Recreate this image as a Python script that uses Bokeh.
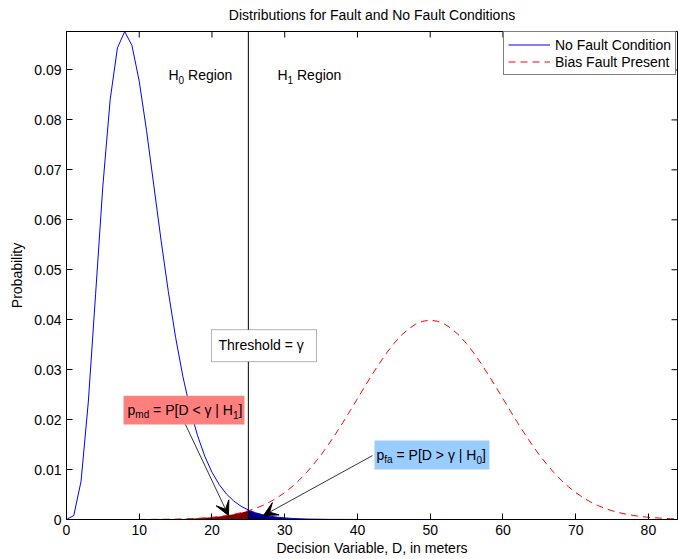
import math
from bokeh.plotting import figure
from bokeh.models import (Range1d, FixedTicker, Span, BoxAnnotation,
                          Label, Arrow, VeeHead, Legend, LegendItem)
from bokeh.embed import file_html
from bokeh.resources import INLINE

# ---------------- data ----------------
x_vals = list(range(85))
no_fault = [0.0, 0.00079, 0.00766, 0.02353, 0.04511, 0.06680, 0.08402, 0.09441, 0.09768, 0.09490,
            0.08773, 0.07791, 0.06693, 0.05591, 0.04561, 0.03646, 0.02863, 0.02213, 0.01687, 0.01270,
            0.00946, 0.00697, 0.00509, 0.00369, 0.00265, 0.00190, 0.00134, 0.00095, 0.00067, 0.00046,
            0.00032, 0.00022, 0.00015, 0.00010, 0.00007, 0.00005, 0.00003, 0.00002, 0.00002, 0.00001,
            0.00001] + [0.0] * 44
bias_fault = [0.0] * 10 + [
    0.000013, 0.00002, 0.000029, 0.000043, 0.000061, 0.000087, 0.000123, 0.000172, 0.000238, 0.000327,
    0.000443, 0.000595, 0.000792, 0.001042, 0.001358, 0.001753, 0.002239, 0.002833, 0.003547, 0.004398,
    0.005399, 0.006562, 0.007895, 0.009405, 0.011092, 0.012952, 0.014973, 0.017137, 0.019419, 0.021785,
    0.024197, 0.026609, 0.028969, 0.031225, 0.033322, 0.035207, 0.036827, 0.038139, 0.039104, 0.039695,
    0.039894,
    0.039695, 0.039104, 0.038139, 0.036827, 0.035207, 0.033322, 0.031225, 0.028969, 0.026609, 0.024197,
    0.021785, 0.019419, 0.017137, 0.014973, 0.012952, 0.011092, 0.009405, 0.007895, 0.006562, 0.005399,
    0.004398, 0.003547, 0.002833, 0.002239, 0.001753, 0.001358, 0.001042, 0.000792, 0.000595, 0.000443,
    0.000327, 0.000238, 0.000172, 0.000123]
threshold = 25
x_ticks = [0, 10, 20, 30, 40, 50, 60, 70, 80]
y_ticks = [0, 0.01, 0.02, 0.03, 0.04, 0.05, 0.06, 0.07, 0.08, 0.09]
y_tick_labels = ["0", "0.01", "0.02", "0.03", "0.04", "0.05", "0.06", "0.07", "0.08", "0.09"]
series_names = ["No Fault Condition", "Bias Fault Present"]
title_text = "Distributions for Fault and No Fault Conditions"
X_MAX = 84
Y_MAX = 0.0977

FONT = "Liberation Sans"
FS = "14px"

p = figure(width=678, height=559, output_backend="svg", toolbar_location=None,
           x_range=Range1d(0, X_MAX), y_range=Range1d(0, Y_MAX),
           min_border_left=66, min_border_right=1, min_border_top=30, min_border_bottom=40)
p.grid.visible = False
p.outline_line_color = "black"
p.background_fill_color = "white"
p.border_fill_color = "white"

p.title.text = title_text
p.title.align = "center"
p.title.vertical_align = "top"
p.title.standoff = 13
p.title.text_font = FONT
p.title.text_font_size = FS
p.title.text_font_style = "normal"
p.title.text_color = "black"


def style_axis(ax):
    ax.major_tick_in = 6
    ax.major_tick_out = 0
    ax.minor_tick_in = 0
    ax.minor_tick_out = 0
    ax.axis_line_color = "black"
    ax.major_tick_line_color = "black"
    ax.major_label_text_font = FONT
    ax.major_label_text_color = "black"
    ax.major_label_text_font_size = FS
    ax.axis_label_text_font = FONT
    ax.axis_label_text_font_size = FS
    ax.axis_label_text_font_style = "normal"
    ax.axis_label_text_color = "black"


xa = p.xaxis[0]
xa.ticker = FixedTicker(ticks=x_ticks)
xa.axis_label = "Decision Variable, D, in meters"
style_axis(xa)
xa.major_label_standoff = 5
xa.axis_label_standoff = 2

ya = p.yaxis[0]
ya.ticker = FixedTicker(ticks=y_ticks)
ya.major_label_overrides = {t: s for t, s in zip(y_ticks, y_tick_labels)}
ya.axis_label = "Probability"
style_axis(ya)
ya.major_label_standoff = 5
ya.axis_label_standoff = 6

# ---------------- marks ----------------
p.varea(x=x_vals[:threshold + 1], y1=0, y2=bias_fault[:threshold + 1], fill_color="#7F0000")
p.varea(x=x_vals[threshold:], y1=0, y2=no_fault[threshold:], fill_color="#00007F")
r_blue = p.line(x_vals, no_fault, line_color="#0000FF", line_width=1)
r_red = p.line(x_vals, bias_fault, line_color="#FF0000", line_dash="7 5", line_width=1)

# mirrored inward ticks on the top and right edges (6 px rays pointing into the frame)
p.ray(x=x_ticks, y=[Y_MAX] * len(x_ticks), length=6, length_units="screen",
      angle=-math.pi / 2, line_color="black", line_width=1)
p.ray(x=[X_MAX] * len(y_ticks), y=y_ticks, length=6, length_units="screen",
      angle=math.pi, line_color="black", line_width=1)

p.add_layout(Span(location=threshold, dimension="height", line_color="black", line_width=1))

# ---------------- legend ----------------
legend = Legend(items=[LegendItem(label=series_names[0], renderers=[r_blue]),
                       LegendItem(label=series_names[1], renderers=[r_red])],
                location=(437, 444), padding=4, spacing=0, margin=0,
                glyph_width=42, glyph_height=17, label_height=17, label_standoff=5,
                label_text_font=FONT, label_text_font_size=FS, label_text_color="black",
                border_line_color="black", border_line_width=1,
                background_fill_color="white", background_fill_alpha=1)
p.add_layout(legend)

# ---------------- annotations ----------------
W = {' ': .278, '=': .584, '<': .584, '>': .584, '[': .278, ']': .278, '|': .26, 'P': .667,
     'D': .722, 'H': .722, 'R': .722, 'T': .611, 'e': .556, 'g': .556, 'i': .222, 'o': .556,
     'n': .556, 'h': .556, 'r': .333, 's': .5, 'l': .222, 'd': .556, 'm': .833, 'p': .556,
     'f': .278, 'a': .556, 'γ': .5}


def tw(s, size):
    return sum(W.get(c, .556) for c in s) * size


def rich(x, y, pieces):
    off = 0.0
    for t, sub in pieces:
        size = 10 if sub else 14
        lead = len(t) - len(t.lstrip(" "))
        off += tw(" " * lead, size)
        t = t.lstrip(" ")
        p.add_layout(Label(x=x, y=y, x_offset=off, y_offset=-5 if sub else 0, text=t,
                           text_font=FONT, text_font_size=f"{size}px", text_color="black",
                           text_baseline="alphabetic", text_align="left"))
        off += tw(t, size)


rich(14.02, 0.089, [("H", False), ("0", True), (" Region", False)])
rich(29.0, 0.089, [("H", False), ("1", True), (" Region", False)])

p.add_layout(BoxAnnotation(left=19.93, right=34.37, bottom=0.0316, top=0.038,
                           fill_color="white", fill_alpha=1, line_color="black", line_width=1))
rich(20.9, 0.0349, [("Threshold = γ", False)])

p.add_layout(BoxAnnotation(left=7.84, right=24.47, bottom=0.019, top=0.0248,
                           fill_color="#FF7F7F", fill_alpha=1, line_color=None))
rich(8.39, 0.022, [("p", False), ("md", True), (" = P[D < γ | H", False), ("1", True), ("]", False)])

p.add_layout(BoxAnnotation(left=42.34, right=58.15, bottom=0.010, top=0.0158,
                           fill_color="#99CCFF", fill_alpha=1, line_color=None))
rich(42.62, 0.013, [("p", False), ("fa", True), (" = P[D > γ | H", False), ("0", True), ("]", False)])

p.add_layout(Arrow(end=VeeHead(size=14, fill_color="black", line_color="black"),
                   x_start=16.36, y_start=0.019, x_end=22.27, y_end=0.0008,
                   line_color="#333333", line_width=1))
p.add_layout(Arrow(end=VeeHead(size=14, fill_color="black", line_color="black"),
                   x_start=42.07, y_start=0.0128, x_end=27.08, y_end=0.0008,
                   line_color="#333333", line_width=1))

open("out.html", "w").write(file_html(p, INLINE))
